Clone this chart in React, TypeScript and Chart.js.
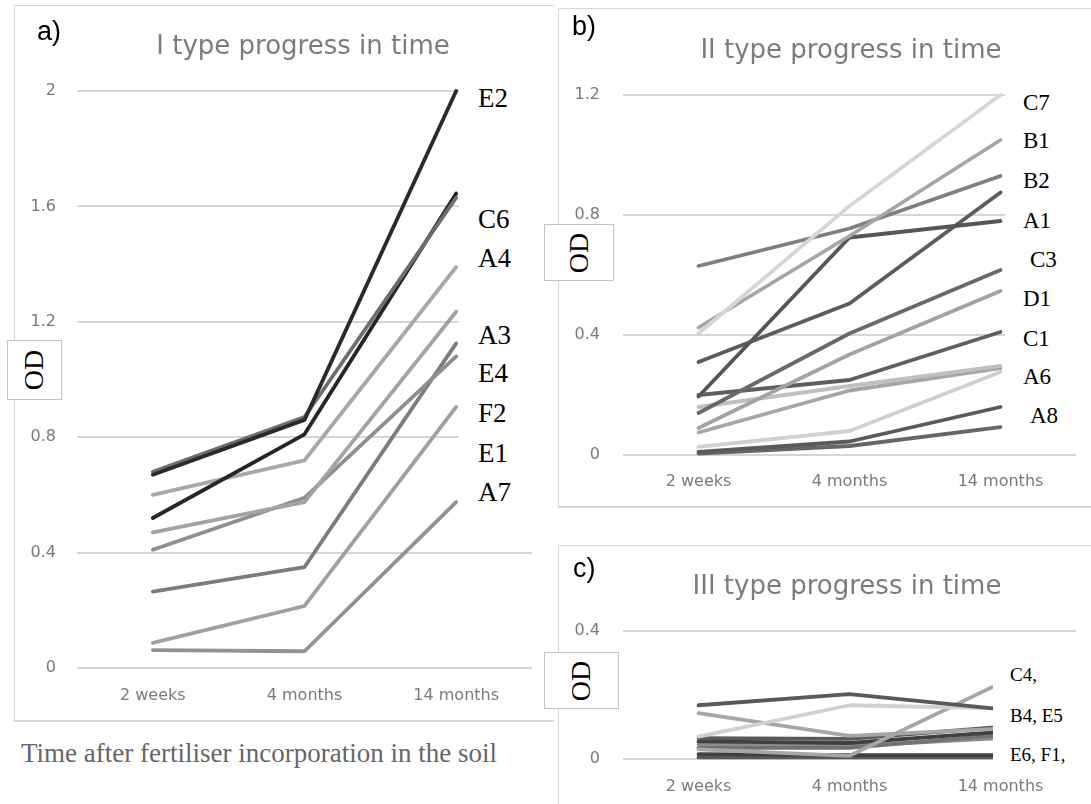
import React, { useEffect, useRef } from "react";
import { Chart, registerables } from "chart.js";

Chart.register(...registerables);

// ---------- data ----------
const categories = ["2 weeks", "4 months", "14 months"];

// I type
const typeI_a = [0.67, 0.86, 2.0];
const typeI_b = [0.68, 0.87, 1.63];
const typeI_c = [0.52, 0.81, 1.645];
const typeI_d = [0.6, 0.72, 1.39];
const typeI_e = [0.47, 0.575, 1.235];
const typeI_f = [0.41, 0.59, 1.08];
const typeI_g = [0.265, 0.35, 1.125];
const typeI_h = [0.087, 0.215, 0.905];
const typeI_i = [0.062, 0.058, 0.575];

// II type
const typeII_a = [0.405, 0.83, 1.2];
const typeII_b = [0.425, 0.73, 1.05];
const typeII_c = [0.63, 0.755, 0.93];
const typeII_d = [0.195, 0.725, 0.78];
const typeII_e = [0.31, 0.505, 0.875];
const typeII_f = [0.14, 0.405, 0.617];
const typeII_g = [0.09, 0.335, 0.547];
const typeII_h = [0.2, 0.25, 0.41];
const typeII_i = [0.16, 0.23, 0.297];
const typeII_j = [0.075, 0.215, 0.29];
const typeII_k = [0.027, 0.08, 0.277];
const typeII_l = [0.01, 0.045, 0.16];
const typeII_m = [0.005, 0.03, 0.093];

// III type
const typeIII_a = [0.168, 0.203, 0.156];
const typeIII_b = [0.07, 0.168, 0.158];
const typeIII_c = [0.143, 0.072, 0.095];
const typeIII_d = [0.03, 0.01, 0.237];
const typeIII_e = [0.065, 0.063, 0.1];
const typeIII_f = [0.055, 0.05, 0.085];
const typeIII_g = [0.035, 0.035, 0.075];
const typeIII_h = [0.045, 0.04, 0.065];
const typeIII_i = [0.015, 0.012, 0.012];
const typeIII_j = [0.005, 0.005, 0.005];

const typeILabels = ["E2", "C6", "A4", "A3", "E4", "F2", "E1", "A7"];
const typeIILabels = ["C7", "B1", "B2", "A1", "C3", "D1", "C1", "A6", "A8"];
const typeIIILabels = ["C4,", "B4, E5", "E6, F1,"];

const typeIMax = 2;
const typeIIMax = 1.2;
const typeIIIMax = 0.4;
const tickStep = 0.4;

const titleI = "I type progress in time";
const titleII = "II type progress in time";
const titleIII = "III type progress in time";
const axisTitle = "OD";
const caption = "Time after fertiliser incorporation in the soil";

// ---------- styles ----------
const seriesI = [typeI_a, typeI_b, typeI_c, typeI_d, typeI_e, typeI_f, typeI_g, typeI_h, typeI_i];
const coloursI = ["#2a2a2a", "#6e6e6e", "#262626", "#a8a8a8", "#a3a3a3", "#8e8e8e", "#7c7c7c", "#a0a0a0", "#929292"];

const seriesII = [typeII_a, typeII_b, typeII_c, typeII_d, typeII_e, typeII_f, typeII_g, typeII_h, typeII_i, typeII_j, typeII_k, typeII_l, typeII_m];
const coloursII = ["#d6d6d6", "#a6a6a6", "#7f7f7f", "#565656", "#5c5c5c", "#696969", "#a3a3a3", "#5f5f5f", "#c0c0c0", "#a6a6a6", "#d0d0d0", "#5a5a5a", "#666666"];

const seriesIII = [typeIII_a, typeIII_b, typeIII_c, typeIII_d, typeIII_e, typeIII_f, typeIII_g, typeIII_h, typeIII_i, typeIII_j];
const coloursIII = ["#595959", "#d0d0d0", "#a6a6a6", "#a6a6a6", "#595959", "#404040", "#737373", "#8c8c8c", "#404040", "#595959"];

const labelTopsI = [99, 219.5, 258.5, 336, 374, 414, 454, 492.5];
const labelLeftsII = [1023, 1023, 1023, 1023, 1030, 1023, 1023, 1023, 1030];
const labelTopsII = [102.5, 141, 181, 221, 260, 299, 339, 377, 416];
const labelTopsIII = [674.5, 715.5, 754.5];

const tickFont = { family: "'DejaVu Sans', sans-serif", size: 16 };
const tickColour = "#7a7a7a";

type ChartProps = {
  left: number;
  top: number;
  width: number;
  height: number;
  plotLeft: number;
  plotRight: number;
  plotTop: number;
  plotBottom: number;
  yMax: number;
  series: number[][];
  colours: string[];
  yPad: number;
  xPad: number;
};

function LineChart(p: ChartProps) {
  const ref = useRef<HTMLCanvasElement>(null);
  useEffect(() => {
    if (!ref.current) return;
    const chart = new Chart(ref.current, {
      type: "line",
      data: {
        labels: categories,
        datasets: p.series.map((d, i) => ({
          data: d,
          borderColor: p.colours[i],
          backgroundColor: p.colours[i],
          borderWidth: 3.8,
          pointRadius: 0,
          pointHoverRadius: 0,
          tension: 0,
          fill: false,
          borderCapStyle: "round" as const,
          borderJoinStyle: "round" as const,
          clip: false as any,
        })),
      },
      options: {
        animation: false,
        responsive: false,
        maintainAspectRatio: false,
        events: [],
        layout: { padding: { left: 0, top: p.plotTop, right: p.width - p.plotRight, bottom: 0 } },
        plugins: { legend: { display: false }, tooltip: { enabled: false }, title: { display: false } },
        scales: {
          x: {
            type: "category",
            offset: true,
            grid: { display: false, drawTicks: false },
            border: { display: false },
            ticks: { color: tickColour, font: tickFont, padding: p.xPad, maxRotation: 0, autoSkip: false },
            afterFit: (s: any) => {
              s.height = p.height - p.plotBottom;
            },
          },
          y: {
            type: "linear",
            min: 0,
            max: p.yMax,
            grid: { color: "#d6d6d6", lineWidth: 2, drawTicks: false },
            border: { display: false },
            ticks: {
              stepSize: tickStep,
              color: tickColour,
              font: tickFont,
              padding: p.yPad,
              callback: (v: any) => String(Math.round(Number(v) * 10) / 10),
            },
            afterFit: (s: any) => {
              s.width = p.plotLeft;
            },
          },
        },
      },
    });
    return () => chart.destroy();
  }, []);
  return (
    <canvas
      ref={ref}
      width={p.width}
      height={p.height}
      style={{ position: "absolute", left: p.left, top: p.top, width: p.width, height: p.height }}
    />
  );
}

const serif = "'Liberation Serif', 'Times New Roman', serif";
const sans = "'Liberation Sans', Arial, sans-serif";
const titleFont = "'DejaVu Sans', sans-serif";

function Txt(props: { x: number; y: number; size: number; font: string; color?: string; children: any; center?: boolean }) {
  const s: any = {
    position: "absolute",
    top: props.y,
    fontFamily: props.font,
    fontSize: props.size,
    lineHeight: 1,
    color: props.color || "#000",
    whiteSpace: "nowrap",
  };
  if (props.center) {
    s.left = props.x - 300;
    s.width = 600;
    s.textAlign = "center";
  } else {
    s.left = props.x;
  }
  return <div style={s}>{props.children}</div>;
}

function ODBox(props: { x: number; y: number; w: number; h: number }) {
  return (
    <div
      style={{
        position: "absolute",
        left: props.x,
        top: props.y,
        width: props.w,
        height: props.h,
        boxSizing: "border-box",
        border: "1px solid #c4c4c4",
        background: "#fff",
        display: "flex",
        alignItems: "center",
        justifyContent: "center",
      }}
    >
      <span style={{ transform: "rotate(-90deg)", fontFamily: serif, fontSize: 28, lineHeight: 1, whiteSpace: "nowrap", color: "#000" }}>
        {axisTitle}
      </span>
    </div>
  );
}

function WhiteBox(props: { x: number; y: number; w: number; h: number }) {
  return <div style={{ position: "absolute", left: props.x, top: props.y, width: props.w, height: props.h, background: "#fff" }} />;
}

export default function App() {
  return (
    <div style={{ position: "absolute", left: 0, top: 0, width: 1091, height: 804, background: "#fff", overflow: "hidden" }}>
      {/* Panel a */}
      <div
        style={{
          position: "absolute",
          left: 14,
          top: 5,
          width: 540,
          height: 717,
          boxSizing: "border-box",
          borderLeft: "1.5px solid #d6d6d6",
          borderTop: "1.5px solid #d6d6d6",
          borderBottom: "2px solid #d6d6d6",
        }}
      />
      <LineChart
        left={14}
        top={5}
        width={540}
        height={717}
        plotLeft={63}
        plotRight={518}
        plotTop={86}
        plotBottom={663}
        yMax={typeIMax}
        series={seriesI}
        colours={coloursI}
        yPad={21}
        xPad={18}
      />
      <WhiteBox x={459} y={80} w={94} h={432} />
      {typeILabels.map((t, i) => (
        <Txt key={t} x={478} y={labelTopsI[i] - 13.7} size={27} font={serif}>
          {t}
        </Txt>
      ))}
      <Txt x={37} y={18} size={27} font={sans}>
        a)
      </Txt>
      <Txt x={303} y={32} size={26} font={titleFont} color="#7c7c7c" center>
        {titleI}
      </Txt>
      <ODBox x={7} y={340} w={55} h={60} />
      <Txt x={21} y={740} size={27} font={serif} color="#666666">
        {caption}
      </Txt>

      {/* Panel b */}
      <div
        style={{
          position: "absolute",
          left: 558,
          top: 8,
          width: 540,
          height: 500,
          boxSizing: "border-box",
          background: "#fff",
          borderLeft: "1.5px solid #d6d6d6",
          borderTop: "1.5px solid #d6d6d6",
          borderBottom: "2px solid #d6d6d6",
        }}
      />
      <LineChart
        left={558}
        top={8}
        width={533}
        height={500}
        plotLeft={65}
        plotRight={518}
        plotTop={87}
        plotBottom={447}
        yMax={typeIIMax}
        series={seriesII}
        colours={coloursII}
        yPad={23}
        xPad={17}
      />
      <WhiteBox x={1005} y={85} w={86} h={350} />
      {typeIILabels.map((t, i) => (
        <Txt key={t} x={labelLeftsII[i]} y={labelTopsII[i] - 11.6} size={23} font={serif}>
          {t}
        </Txt>
      ))}
      <Txt x={572} y={13} size={27} font={sans}>
        b)
      </Txt>
      <Txt x={851} y={36} size={26} font={titleFont} color="#7c7c7c" center>
        {titleII}
      </Txt>
      <ODBox x={544} y={224} w={70} h={57} />

      {/* Panel c */}
      <div
        style={{
          position: "absolute",
          left: 558,
          top: 545,
          width: 540,
          height: 300,
          boxSizing: "border-box",
          background: "#fff",
          borderLeft: "1.5px solid #d6d6d6",
          borderTop: "1.5px solid #d6d6d6",
        }}
      />
      <LineChart
        left={558}
        top={545}
        width={533}
        height={259}
        plotLeft={65}
        plotRight={518}
        plotTop={86}
        plotBottom={214}
        yMax={typeIIIMax}
        series={seriesIII}
        colours={coloursIII}
        yPad={23}
        xPad={18}
      />
      <WhiteBox x={993} y={660} w={98} h={110} />
      {typeIIILabels.map((t, i) => (
        <Txt key={t} x={1010} y={labelTopsIII[i] - 9.6} size={19} font={serif}>
          {t}
        </Txt>
      ))}
      <Txt x={573} y={555} size={27} font={sans}>
        c)
      </Txt>
      <Txt x={847} y={572} size={26} font={titleFont} color="#7c7c7c" center>
        {titleIII}
      </Txt>
      <ODBox x={544} y={652} w={75} h={57} />
    </div>
  );
}
